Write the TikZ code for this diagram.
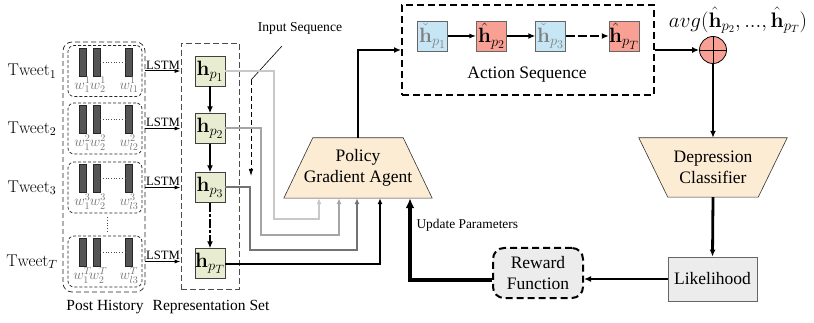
\RequirePackage{fix-cm}
\documentclass[tikz,border=0pt]{standalone}
\usepackage[no-math]{fontspec}
\setmainfont{Liberation Serif}
\usetikzlibrary{arrows.meta,shapes.geometric}
\definecolor{peach}{RGB}{252,236,212}
\definecolor{olivec}{RGB}{232,236,208}
\definecolor{lblue}{RGB}{198,230,245}
\definecolor{lred}{RGB}{248,160,148}
\definecolor{lgray}{RGB}{236,236,236}
\definecolor{barc}{RGB}{85,85,85}
\definecolor{gone}{RGB}{200,200,200}
\definecolor{gtwo}{RGB}{165,165,165}
\definecolor{gthree}{RGB}{115,115,115}
\tikzset{
  big/.style={font=\fontsize{17.5}{21}\selectfont},
  mid/.style={font=\fontsize{15.5}{18}\selectfont},
  sml/.style={font=\fontsize{13.4}{16}\selectfont},
  hbox/.style={draw=black!75, fill=olivec, minimum width=30pt, minimum height=30pt, inner sep=0pt, font=\fontsize{20.74}{24}\selectfont},
  abox/.style={draw=black!60, minimum width=30pt, minimum height=30pt, inner sep=0pt, font=\fontsize{20.74}{24}\selectfont},
  barbox/.style={draw=black!85, fill=barc, minimum width=7pt, minimum height=28pt, inner sep=0pt},
  twbox/.style={draw=black!85, line width=0.7pt, dashed, dash pattern=on 3pt off 2pt, rounded corners=6pt, minimum width=74pt, minimum height=51pt, inner sep=0pt},
  wlab/.style={text=black!55, font=\fontsize{14.5}{16}\selectfont, inner sep=0pt},
  tip/.style={-{Latex[length=7pt,width=6pt]}},
  smalltip/.style={-{Latex[length=6pt,width=5pt]}},
  conn/.style={line width=2pt, smalltip},
  heavy/.style={line width=2.8pt, tip},
}
\begin{document}
\begin{tikzpicture}[x=1pt,y=-1pt]
\useasboundingbox (0,0) rectangle (814,323);

% ---------- Post history ----------
\node[draw=black!85, line width=0.7pt, dashed, dash pattern=on 5pt off 3pt, rounded corners=9pt, minimum width=82pt, minimum height=250pt, inner sep=0pt] (ph) at (104,167) {};
\foreach \i/\y/\s/\l in {1/71/1/l1, 2/128.5/2/l2, 3/187.5/3/l3, T/261.5/T/l3}{
  \node[twbox] (tw\i) at (105,\y) {};
  \node[barbox] (ba\i) at (82.5,\y-9) {};
  \node[barbox] (bb\i) at (96.5,\y-9) {};
  \node[barbox] (bc\i) at (128.5,\y-9) {};
  \draw[dotted, line width=0.7pt, black!70] (bb\i.east) -- (bc\i.west);
  \node[wlab] (wa\i) at (82.5,\y+14) {$w_1^{\s}$};
  \node[wlab] (wb\i) at (98,\y+14) {$w_2^{\s}$};
  \node[wlab] (wc\i) at (129,\y+14) {$w_{\l}^{\s}$};
  \node[font=\fontsize{17}{20}\selectfont] (tl\i) at (32,\y) {$\mathrm{Tweet}_{\s}$};
}
\coordinate (vd1) at (107,217);
\coordinate (vd2) at (107,232);
\draw[dotted, line width=0.8pt, black!70] (vd1) -- (vd2);

% ---------- Representation set ----------
\node[draw=black!70, line width=0.7pt, dashed, dash pattern=on 6pt off 3pt, minimum width=58pt, minimum height=246pt, inner sep=0pt] (rs) at (210,166) {};
\node[hbox] (h1) at (210,71) {$\mathbf{h}_{p_1}$};
\node[hbox] (h2) at (210,128.5) {$\mathbf{h}_{p_2}$};
\node[hbox] (h3) at (210,187.5) {$\mathbf{h}_{p_3}$};
\node[hbox] (hT) at (210,263.5) {$\mathbf{h}_{p_T}$};
\draw[heavy] (h1) -- (h2);
\draw[heavy] (h2) -- (h3);
\draw[heavy, dash pattern=on 9pt off 2pt on 3pt off 2pt] (h3) -- (hT);

% LSTM arrows
\foreach \i in {1,2,3,T}{
  \draw[line width=1pt, -{Latex[length=6pt,width=4pt]}] (ph.east |- tw\i) -- node[above=-2pt, font=\fontsize{12.7}{14}\selectfont] {LSTM} (rs.west |- tw\i);
}

% Input sequence
\node[font=\fontsize{13.6}{16}\selectfont] (isl) at (300,28) {Input Sequence};
\coordinate (is1) at (282,46);
\coordinate (is2) at (251,80);
\coordinate (is3) at (251,176);
\draw[line width=0.6pt] (is1) -- (is2);
\draw[line width=0.8pt, dashed, dash pattern=on 5pt off 3pt, -{Latex[length=7pt,width=4.5pt]}] (is2) -- (is3);

% ---------- Policy gradient agent ----------
\node[big, align=center, minimum width=148pt, minimum height=60pt, inner sep=0pt] (pga) at (358,168) {};
\draw[black!80, fill=peach, line width=0.6pt] (pga.south west) -- (pga.south east) -- ([xshift=-29pt]pga.north east) -- ([xshift=29pt]pga.north west) -- cycle;
\node[big, align=center] (pgat) at (pga) {Policy\\Gradient Agent};

% connectors from h boxes
\draw[conn, gone] (h1.east) -| (274,219) -| ([xshift=-39pt]pga.south);
\draw[conn, gtwo] (h2.east) -| (261,235) -| ([xshift=-19pt]pga.south);
\draw[conn, gthree] (h3.east) -| (250,250) -| ([xshift=-1pt]pga.south);
\draw[conn, black] (hT.east) -| ([xshift=22pt]pga.south);

% ---------- Action sequence ----------
\node[draw, line width=2pt, dashed, dash pattern=on 7pt off 4pt, minimum width=252pt, minimum height=90pt, inner sep=0pt] (as) at (528,50) {};
\node[abox, fill=lblue, text=black!50] (a1) at (432.5,36) {$\check{\mathbf{h}}_{p_1}$};
\node[abox, fill=lred] (a2) at (491.5,36) {$\hat{\mathbf{h}}_{p_2}$};
\node[abox, fill=lblue, text=black!50] (a3) at (550.5,36) {$\check{\mathbf{h}}_{p_3}$};
\node[abox, fill=lred] (aT) at (624,36) {$\hat{\mathbf{h}}_{p_T}$};
\draw[line width=1.6pt, -{Latex[length=7pt,width=5pt]}] (a1) -- (a2);
\draw[line width=2.6pt, tip] (a2) -- (a3);
\draw[line width=2.6pt, dash pattern=on 9pt off 3pt, tip] (a3) -- (aT);
\node[big] (asl) at (527,75) {Action Sequence};

\draw[heavy] ([xshift=0pt]pga.north) -- (pga.north |- as.west) -- (as.west);

% sum node
\node[circle, draw=black, fill=lred, line width=0.8pt, minimum size=27pt, inner sep=0pt] (sum) at (713,50) {};
\draw[line width=0.8pt] (sum.north) -- (sum.south);
\draw[line width=0.8pt] (sum.west) -- (sum.east);
\node[font=\fontsize{21}{24}\selectfont, inner sep=0pt] (avg) at (738,20) {$avg(\hat{\mathbf{h}}_{p_2},...,\hat{\mathbf{h}}_{p_T})$};
\draw[heavy] (as.east |- sum) -- (sum.west);

% ---------- Depression classifier ----------
\node[big, minimum width=148pt, minimum height=59pt, inner sep=0pt] (dc) at (713,167.5) {};
\draw[black!80, fill=peach, line width=0.6pt] (dc.north west) -- (dc.north east) -- ([xshift=-29pt]dc.south east) -- ([xshift=29pt]dc.south west) -- cycle;
\node[big, align=center] (dct) at (dc) {Depression\\Classifier};
\draw[heavy] (sum.south) -- (dc.north);

% ---------- Likelihood ----------
\node[draw=black!60, fill=lgray, line width=0.8pt, minimum width=89pt, minimum height=44pt, inner sep=0pt, big] (lk) at (712.5,279) {Likelihood};
\draw[heavy] (dc.south) -- (lk.north);

% ---------- Reward function ----------
\node[draw, fill=lgray, line width=2pt, dashed, dash pattern=on 7pt off 4pt, rounded corners=11pt, minimum width=90pt, minimum height=50pt, inner sep=0pt, big, align=center] (rf) at (538,273) {Reward\\Function};
\draw[heavy] (lk.west |- 0,279) -- (rf.east |- 0,279);
\draw[line width=4.5pt, -{Latex[length=10pt,width=9pt]}] (rf.west |- 0,280) -| ([xshift=52pt]pga.south);
\node[sml, anchor=west] (upl) at (413,225) {Update Parameters};

% bottom labels
\node[mid] (phl) at (105,307) {Post History};
\node[mid] (rsl) at (211,307) {Representation Set};
\end{tikzpicture}
\end{document}
